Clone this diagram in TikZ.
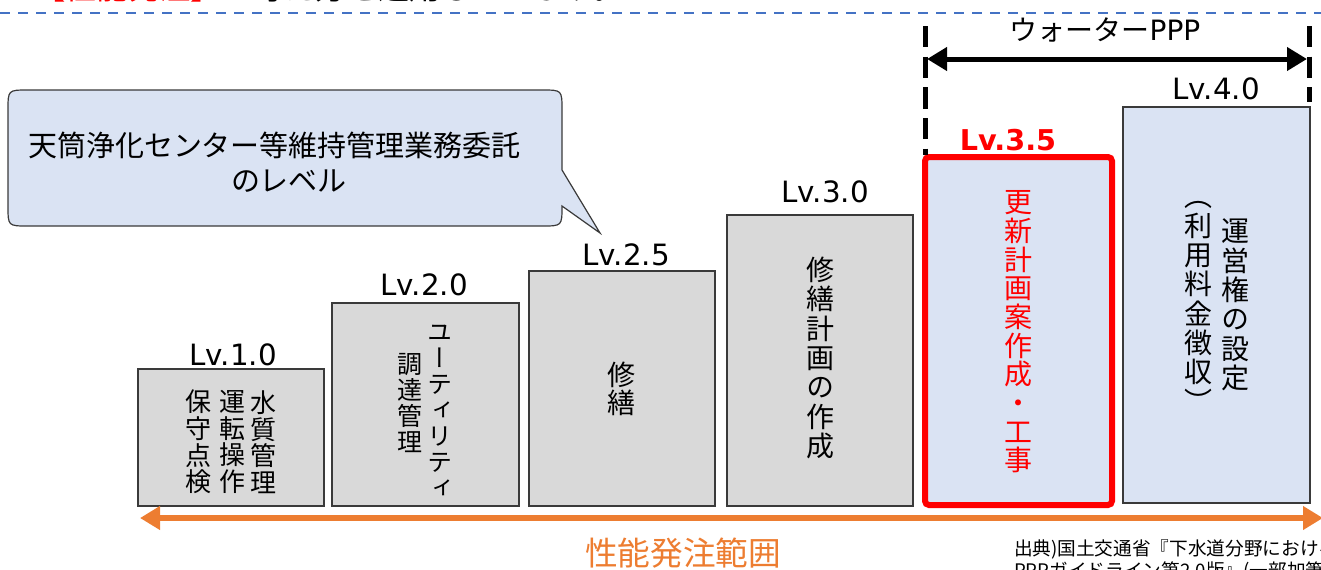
\documentclass[tikz,border=0pt]{standalone}
\usepackage{fontspec}
\setmainfont{Noto Sans CJK JP}
\newfontfamily\jpv[RawFeature=+vert]{Noto Sans CJK JP}
\newfontfamily\lat{DejaVu Sans}
\usetikzlibrary{arrows.meta,fit,calc}
\definecolor{boxgray}{HTML}{D9D9D9}
\definecolor{lblue}{HTML}{DAE3F3}
\definecolor{dblue}{HTML}{4472C4}
\definecolor{orng}{HTML}{ED7D31}
\definecolor{edge}{HTML}{3A3A3A}
\definecolor{pred}{HTML}{FF0000}
\begin{document}
\begin{tikzpicture}[x=0.75pt,y=-0.75pt,
  every node/.style={inner sep=0pt, outer sep=0pt},
  graybox/.style={draw=edge, line width=1.1pt, fill=boxgray, inner sep=0pt},
  bluebox/.style={draw=edge, line width=1.3pt, fill=lblue, inner sep=0pt},
  redbox/.style={draw=pred, line width=4.5pt, fill=lblue, inner sep=0pt, rounded corners=3pt},
  lvlabel/.style={font=\lat\fontsize{22}{24}\selectfont, anchor=base},
  vtA/.style={font=\jpv\fontsize{19.5}{19.9}\selectfont, align=center},
  vtB/.style={font=\jpv\fontsize{18.75}{19.5}\selectfont, align=center},
  vtC/.style={font=\jpv\fontsize{21}{21.5}\selectfont, align=center},
  vtD/.style={font=\jpv\fontsize{21}{22}\selectfont, align=center},
  pppline/.style={line width=3.75pt, dash pattern=on 16pt off 7pt},
]
\useasboundingbox (0,0) rectangle (1321,569);
\clip (0,0) rectangle (1321,569);

% top clipped heading and blue dashed separator
\node[anchor=base west, font=\fontsize{23.5}{25}\selectfont] (head) at (34,-0.5)
  {\textcolor{pred}{【性能発注】}の考え方を適用しています。};
\coordinate (sepL) at (0,13);
\coordinate (sepR) at (1321,13);
\draw[dblue, line width=1.9pt, dash pattern=on 7.5pt off 6pt] (sepL) -- (sepR);

% callout
\coordinate (tailtip) at (600,233);
\draw[edge, line width=0.9pt, fill=lblue]
  (tailtip) -- (562,170) -- (562,110) .. controls (562,90) .. (542,90)
  -- (28,90) .. controls (8,90) .. (8,110) -- (8,206) .. controls (8,226) .. (28,226)
  -- (542,226) .. controls (562,226) .. (562,206) -- cycle;
\node[align=center, font=\fontsize{21.75}{26.25}\selectfont] (calltext) at (289,162)
  {天筒浄化センター等維持管理業務委託　\\のレベル};

% level boxes
\node[graybox, fit={(138,369) (324,506)}] (b1) {};
\node[graybox, fit={(332,303) (519,506)}] (b2) {};
\node[graybox, fit={(529,271) (715,506)}] (b3) {};
\node[graybox, fit={(727,215) (913,506)}] (b4) {};
\node[redbox, fit={(925,157) (1112,505)}] (b5) {};
\node[bluebox, fit={(1123,107) (1310,503)}] (b6) {};

% level labels
\node[lvlabel] (l1) at (233,365) {Lv.1.0};
\node[lvlabel] (l2) at (424,295) {Lv.2.0};
\node[lvlabel] (l3) at (626,265) {Lv.2.5};
\node[lvlabel] (l4) at (825,202) {Lv.3.0};
\node[lvlabel, text=pred, font=\lat\bfseries\fontsize{21.5}{24}\selectfont] (l5) at (1008,150) {Lv.3.5};
\node[lvlabel] (l6) at (1216,99) {Lv.4.0};

% box texts
\node[vtA] (t1a) at (198,442) {保\\守\\点\\検};
\node[vtA] (t1b) at (232,442) {運\\転\\操\\作};
\node[vtA] (t1c) at (263,442) {水\\質\\管\\理};
\node[vtB] (t2a) at (440,411) {ユ\\ー\\テ\\ィ\\リ\\テ\\ィ};
\node[vtB] (t2b) at (410,403) {調\\達\\管\\理};
\node[vtC] (t3) at (621,389) {修\\繕};
\node[vtD] (t4) at (820,358) {修\\繕\\計\\画\\の\\作\\成};
\node[vtC, text=pred] (t5) at (1018,332) {更\\新\\計\\画\\案\\作\\成\\・\\工\\事};
\node[vtD] (t6a) at (1235,305) {運\\営\\権\\の\\設\\定};
\node[vtD] (t6b) at (1198,307) {（\\利\\用\\料\\金\\徴\\収\\）};

% water PPP bracket
\coordinate (pl1) at (925,26);
\coordinate (pl2) at (925,155);
\coordinate (pr1) at (1309,26);
\coordinate (pr2) at (1309,102);
\draw[pppline] (pl1) -- (pl2);
\draw[pppline] (pr1) -- (pr2);
\coordinate (pa) at (927,59);
\coordinate (pb) at (1307,59);
\draw[line width=3.75pt, {Triangle[width=17pt,length=15pt]}-{Triangle[width=17pt,length=15pt]}] (pa) -- (pb);
\node[font=\fontsize{21}{23}\selectfont] (ppp) at (1105,30) {ウォーター{\lat PPP}};

% performance ordering range
\coordinate (oa) at (140,518);
\coordinate (ob) at (1323,518);
\draw[orng, line width=4.5pt, {Triangle[width=17pt,length=15pt]}-{Triangle[width=17pt,length=15pt]}] (oa) -- (ob);
\node[text=orng, font=\fontsize{24.5}{26}\selectfont] (perf) at (683,553) {性能発注範囲};

% source
\node[anchor=north west, align=left, font=\fontsize{14}{16.5}\selectfont] (src) at (1014,540)
  {出典)国土交通省『下水道分野におけるウォーター\\PPPガイドライン第2.0版』(一部加筆)};
\end{tikzpicture}
\end{document}
